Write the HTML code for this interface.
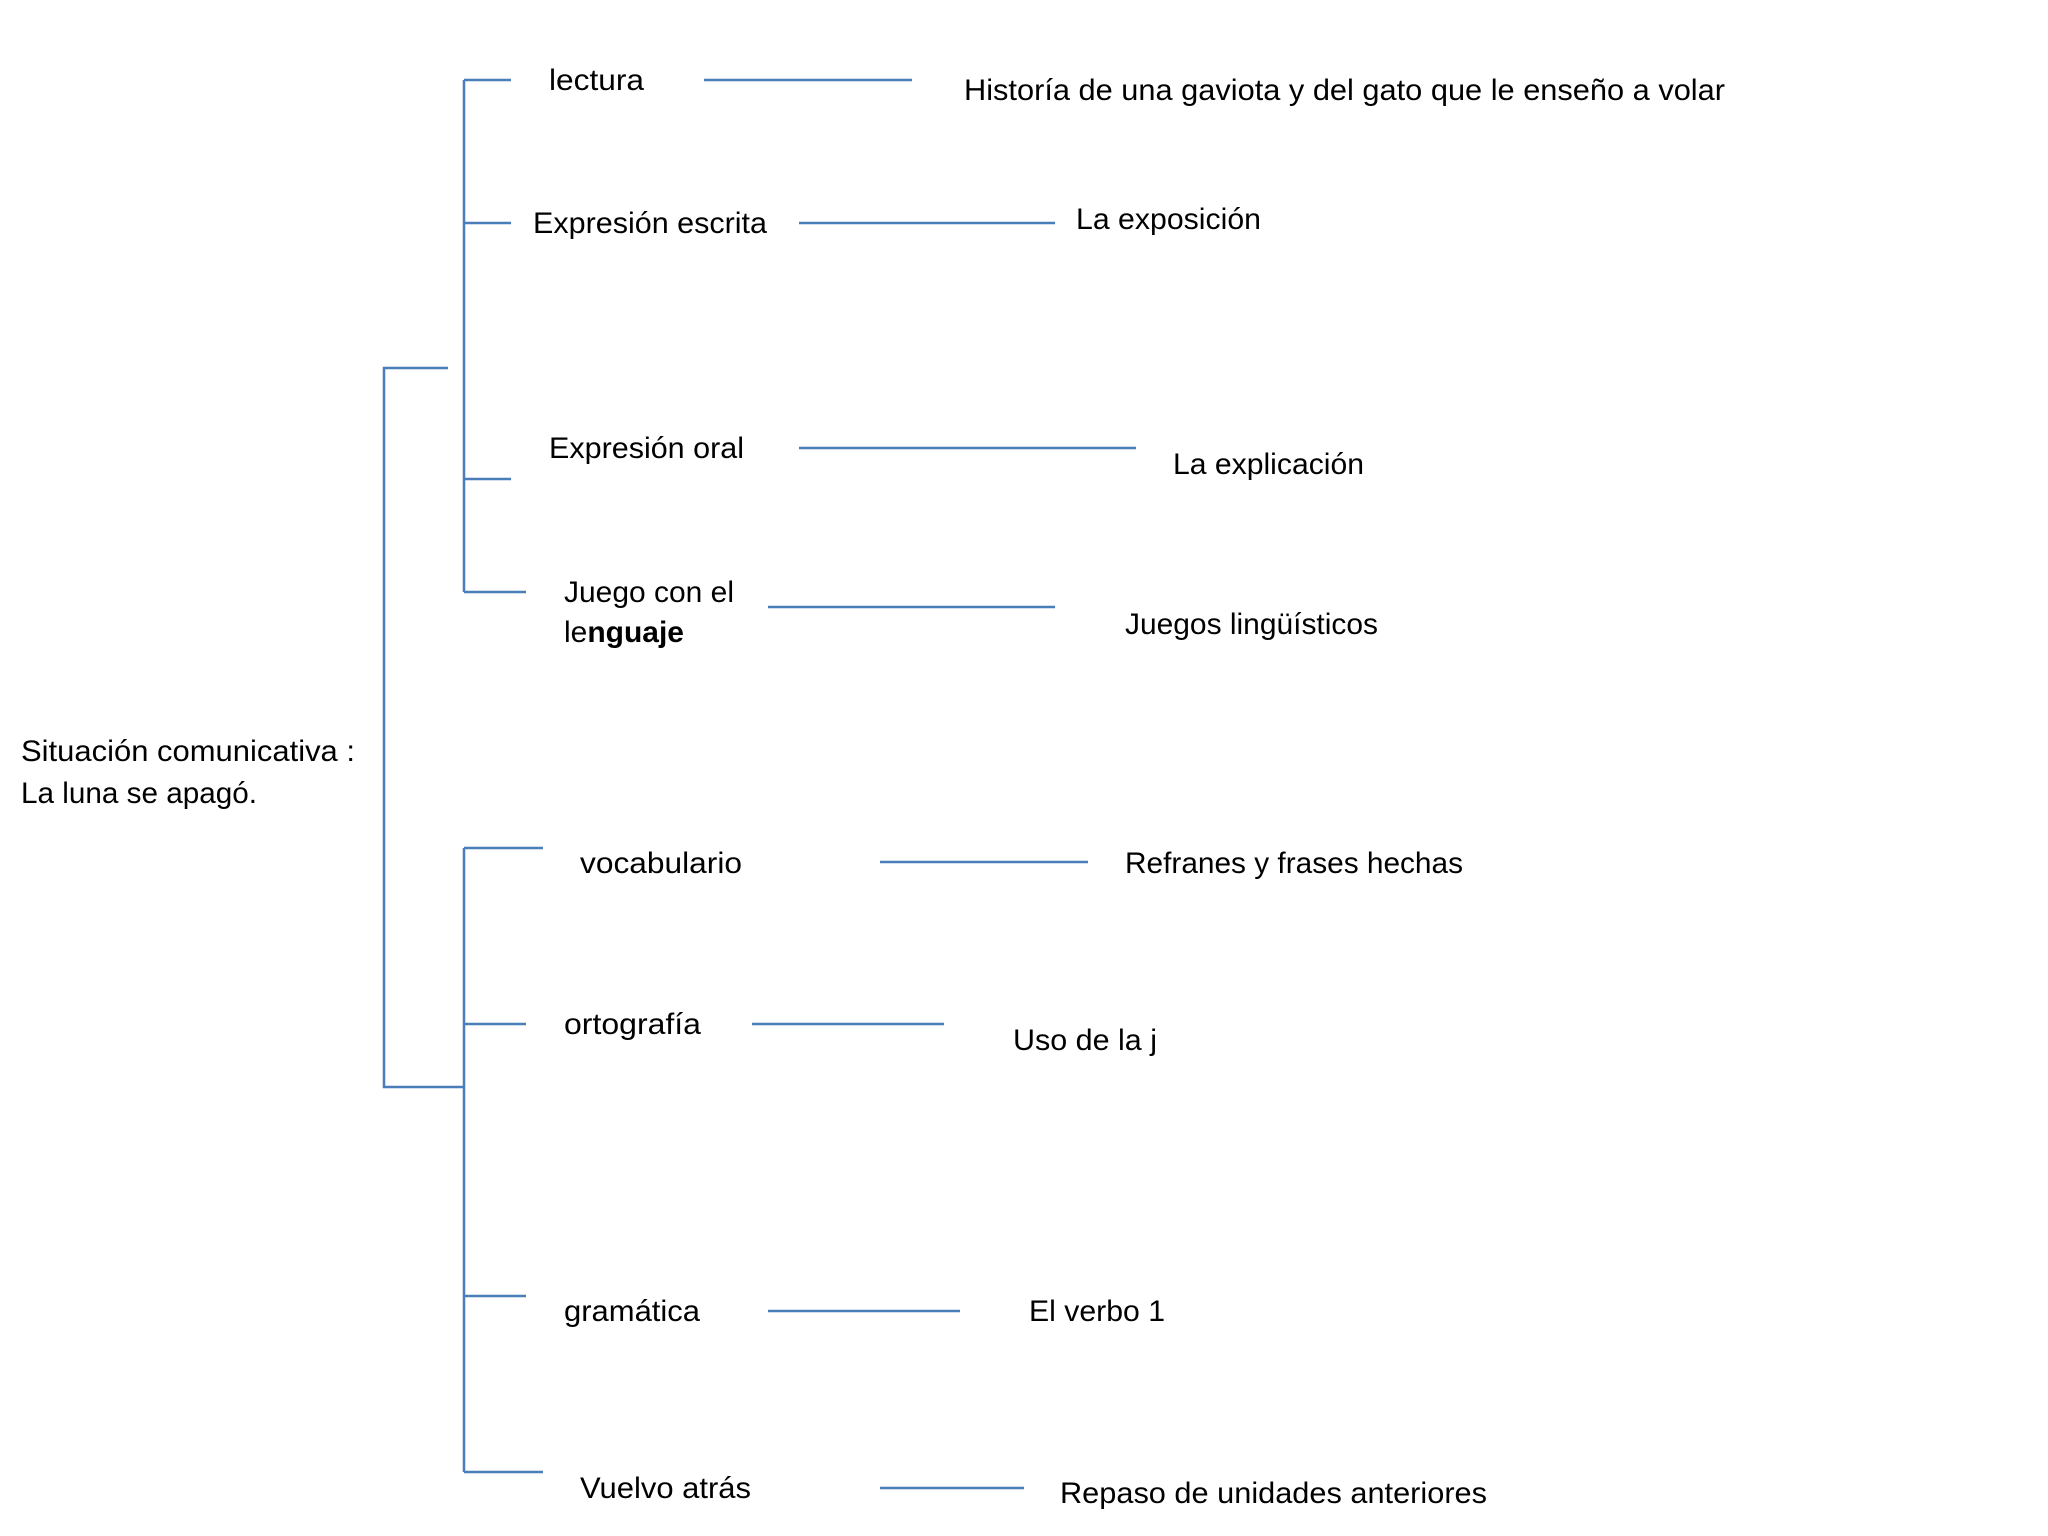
<!DOCTYPE html>
<html><head><meta charset="utf-8"><style>html,body{margin:0;padding:0;background:#fff}svg{display:block}</style></head><body>
<svg width="2048" height="1536" viewBox="0 0 2048 1536" xmlns="http://www.w3.org/2000/svg">
<g stroke="#4a7ebb" stroke-width="2.5" fill="none">
<polyline points="448,368 384,368 384,1087 464,1087"/>
<line x1="464" y1="80" x2="464" y2="592"/>
<line x1="464" y1="80" x2="511" y2="80"/>
<line x1="464" y1="223" x2="511" y2="223"/>
<line x1="464" y1="479" x2="511" y2="479"/>
<line x1="464" y1="592" x2="526" y2="592"/>
<line x1="464" y1="848" x2="464" y2="1472"/>
<line x1="464" y1="848" x2="543" y2="848"/>
<line x1="464" y1="1024" x2="526" y2="1024"/>
<line x1="464" y1="1296" x2="526" y2="1296"/>
<line x1="464" y1="1472" x2="543" y2="1472"/>
<line x1="704" y1="80" x2="912" y2="80"/>
<line x1="799" y1="223" x2="1055" y2="223"/>
<line x1="799" y1="448" x2="1136" y2="448"/>
<line x1="768" y1="607" x2="1055" y2="607"/>
<line x1="880" y1="862" x2="1088" y2="862"/>
<line x1="752" y1="1024" x2="944" y2="1024"/>
<line x1="768" y1="1311" x2="960" y2="1311"/>
<line x1="880" y1="1488" x2="1024" y2="1488"/>
</g>
<g font-family="Liberation Sans, sans-serif" font-size="30" fill="#000" lengthAdjust="spacingAndGlyphs">
<text x="549" y="90" textLength="95" lengthAdjust="spacingAndGlyphs">lectura</text>
<text x="533" y="233" textLength="234" lengthAdjust="spacingAndGlyphs">Expresión escrita</text>
<text x="549" y="458" textLength="195" lengthAdjust="spacingAndGlyphs">Expresión oral</text>
<text x="564" y="602" textLength="170" lengthAdjust="spacingAndGlyphs">Juego con el</text>
<text x="564" y="642" textLength="120" lengthAdjust="spacingAndGlyphs">le<tspan font-weight="bold">nguaje</tspan></text>
<text x="21" y="761" textLength="334" lengthAdjust="spacingAndGlyphs">Situación comunicativa :</text>
<text x="21" y="803" textLength="236" lengthAdjust="spacingAndGlyphs">La luna se apagó.</text>
<text x="580" y="873" textLength="162" lengthAdjust="spacingAndGlyphs">vocabulario</text>
<text x="564" y="1034" textLength="137" lengthAdjust="spacingAndGlyphs">ortografía</text>
<text x="564" y="1321" textLength="136" lengthAdjust="spacingAndGlyphs">gramática</text>
<text x="580" y="1498" textLength="171" lengthAdjust="spacingAndGlyphs">Vuelvo atrás</text>
<text x="964" y="100" textLength="761" lengthAdjust="spacingAndGlyphs">Historía de una gaviota y del gato que le enseño a volar</text>
<text x="1076" y="229" textLength="185" lengthAdjust="spacingAndGlyphs">La exposición</text>
<text x="1173" y="474" textLength="191" lengthAdjust="spacingAndGlyphs">La explicación</text>
<text x="1125" y="634" textLength="253" lengthAdjust="spacingAndGlyphs">Juegos lingüísticos</text>
<text x="1125" y="873" textLength="338" lengthAdjust="spacingAndGlyphs">Refranes y frases hechas</text>
<text x="1013" y="1050" textLength="144" lengthAdjust="spacingAndGlyphs">Uso de la j</text>
<text x="1029" y="1321" textLength="136" lengthAdjust="spacingAndGlyphs">El verbo 1</text>
<text x="1060" y="1503" textLength="427" lengthAdjust="spacingAndGlyphs">Repaso de unidades anteriores</text>
</g>
</svg>
</body></html>
